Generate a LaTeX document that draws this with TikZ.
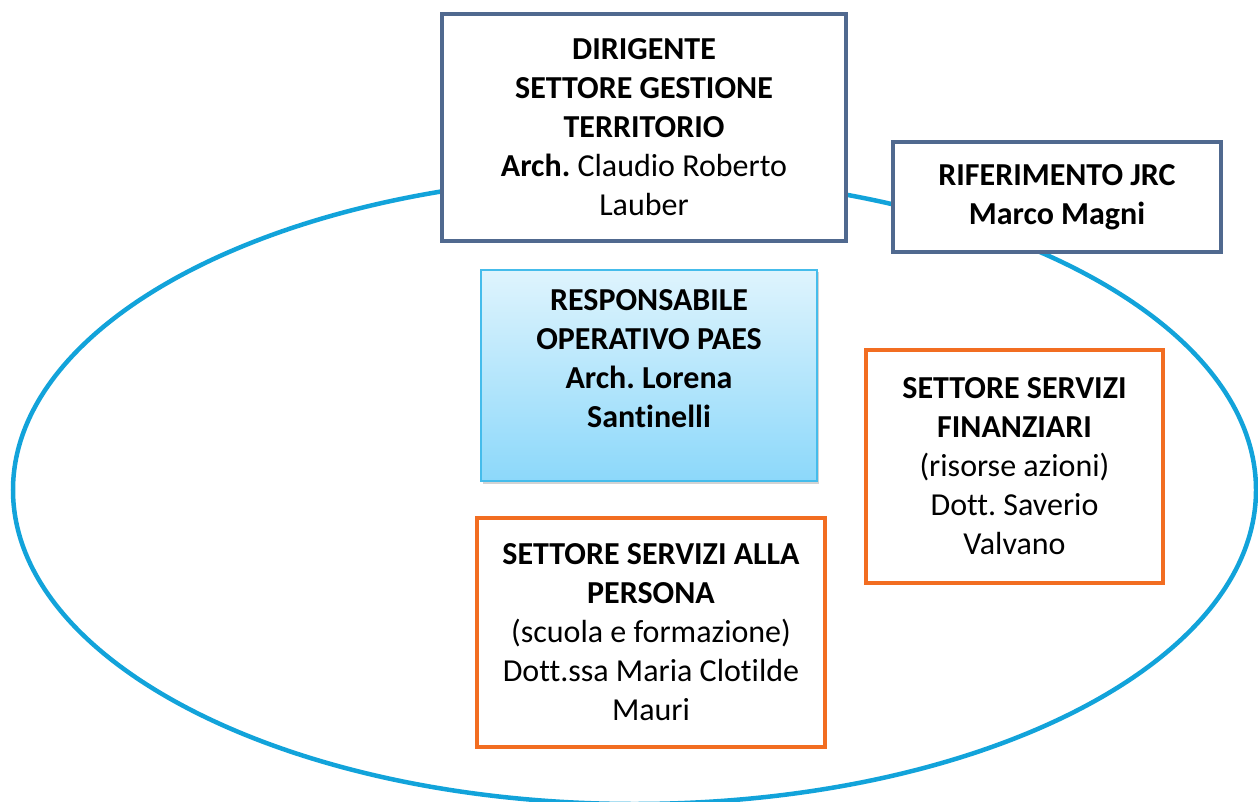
\documentclass[tikz,border=0pt]{standalone}
\usepackage{fontspec}
\setmainfont{Carlito}[Ligatures={NoCommon}]
\usepackage{tikz}
\usetikzlibrary{shadows}
\frenchspacing
\definecolor{slateborder}{HTML}{50698F}
\definecolor{ringblue}{HTML}{12A3DA}
\definecolor{orangeborder}{HTML}{F26D21}
\definecolor{resptop}{HTML}{DFF4FD}
\definecolor{respbottom}{HTML}{8CD8FA}
\definecolor{respborder}{HTML}{45BCEB}
\tikzset{
    headbox/.style={draw=slateborder, line width=4pt, fill=white, align=center, inner sep=0pt},
    sectbox/.style={draw=orangeborder, line width=4pt, fill=white, align=center, inner sep=0pt},
    respbox/.style={draw=respborder, line width=1.5pt, top color=resptop, bottom color=respbottom,
        drop shadow={shadow xshift=1.5pt, shadow yshift=-2.5pt, opacity=0.35}},
    boxtext/.style={align=center, inner sep=0pt}
}

\begin{document}
\begin{tikzpicture}[x=1pt, y=-1pt, font=\fontsize{32}{39}\selectfont]
\useasboundingbox (0,0) rectangle (1258,802);
\draw[ringblue, line width=4.5pt] (634.5,490) ellipse [x radius=621.5, y radius=314];

\node[headbox, minimum width=404pt, minimum height=227pt] (dirigente) at (644,127.5)
    {\textbf{DIRIGENTE}\\ \textbf{SETTORE GESTIONE}\\ \textbf{TERRITORIO}\\ \textbf{Arch.} Claudio Roberto\\ Lauber};
\node[headbox, minimum width=328pt, minimum height=110pt] (jrc) at (1057,197)
    {\textbf{RIFERIMENTO JRC}\\ \textbf{Marco Magni}};

\node[respbox, minimum width=336pt, minimum height=211pt] (resp) at (649,375.5) {};
\node[boxtext] (resptext) at (649,359)
    {\textbf{RESPONSABILE}\\ \textbf{OPERATIVO PAES}\\ \textbf{Arch. Lorena}\\ \textbf{Santinelli}};

\node[sectbox, minimum width=297pt, minimum height=233pt] (finanze) at (1014.5,466.5)
    {\textbf{SETTORE SERVIZI}\\ \textbf{FINANZIARI}\\ (risorse azioni)\\ Dott. Saverio\\ Valvano};
\node[sectbox, minimum width=348pt, minimum height=229pt] (persona) at (651,632.5)
    {\textbf{SETTORE SERVIZI ALLA}\\ \textbf{PERSONA}\\ (scuola e formazione)\\ Dott.ssa Maria Clotilde\\ Mauri};
\end{tikzpicture}
\end{document}
